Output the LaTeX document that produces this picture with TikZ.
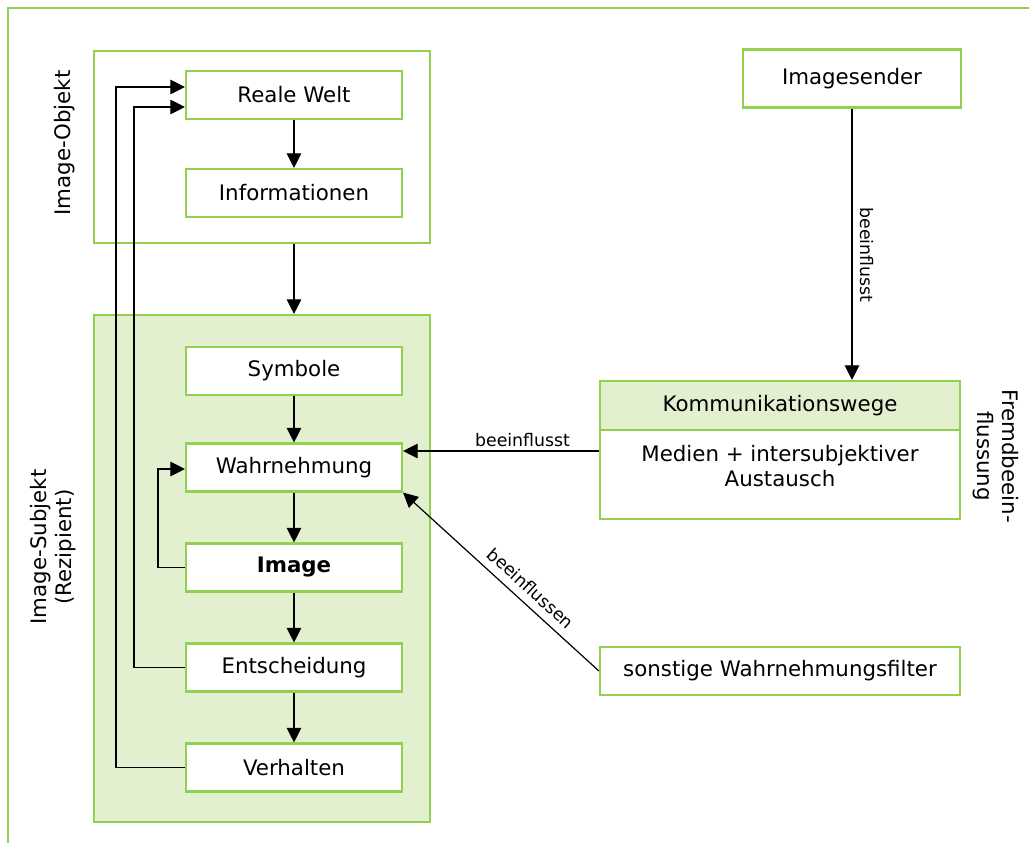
\documentclass[tikz,border=0pt]{standalone}
\usepackage{fontspec}
\setmainfont{DejaVu Sans}
\usetikzlibrary{arrows.meta}
\definecolor{lgreen}{RGB}{146,208,80}
\definecolor{lfill}{RGB}{226,240,208}
\tikzset{
  box/.style={draw=lgreen, line width=1.6pt, fill=white, inner sep=0pt,
    minimum width=162pt, minimum height=36pt, font=\fontsize{16}{19}\selectfont},
  wbox/.style={box, minimum width=270pt},
  frame/.style={draw=lgreen, line width=1.6pt, inner sep=0pt},
  arr/.style={draw=black, line width=0.9pt, -{Triangle[length=11pt,width=11pt]}},
  lbl/.style={font=\fontsize{13}{15}\selectfont, inner sep=2pt},
  side/.style={font=\fontsize{16}{19}\selectfont, align=center, inner sep=0pt}
}
\begin{document}
\begin{tikzpicture}[x=0.75pt, y=-0.75pt]
\useasboundingbox (0,0) rectangle (1029,843);
% outer frame (only top and left edges are visible)
\draw[lgreen, line width=1.6pt] (1029,8) -- (8,8) -- (8,843);

% containers
\node[frame, minimum width=252pt, minimum height=144pt] (obj) at (262,147) {};
\node[frame, fill=lfill, minimum width=252pt, minimum height=380.25pt] (subj) at (262,568.5) {};

% side labels
\node[side, rotate=90] (lobj) at (65,143) {Image-Objekt};
\node[side, rotate=90] (lsubj) at (53,547) {Image-Subjekt\\(Rezipient)};
\node[side, rotate=-90] (lfremd) at (996,456) {Fremdbeein-\\flussung};

% left column
\node[box] (real) at (294,95) {Reale Welt};
\node[box] (info) at (294,193) {Informationen};
\node[box] (sym) at (294,371) {Symbole};
\node[box] (wahr) at (294,467.5) {Wahrnehmung};
\node[box] (img) at (294,567.5) {\bfseries Image};
\node[box] (ent) at (294,667.5) {Entscheidung};
\node[box] (verh) at (294,767.5) {Verhalten};

% right column
\node[box, minimum width=163.5pt, minimum height=43.5pt] (send) at (852,78.5) {Imagesender};
\node[wbox, fill=lfill, minimum height=36.75pt] (kwh) at (780,405.5) {Kommunikationswege};
\node[wbox, minimum height=66.75pt] (kwb) at (780,474.5) {};
\node[side] (kwt) at (780,466) {Medien + intersubjektiver\\Austausch};
\node[wbox] (sonst) at (780,671) {sonstige Wahrnehmungsfilter};

% main flow
\draw[arr] (real) -- (info);
\draw[arr] (obj.south -| info.south) -- (subj.north -| info.south);
\draw[arr] (sym) -- (wahr);
\draw[arr] (wahr) -- (img);
\draw[arr] (img) -- (ent);
\draw[arr] (ent) -- (verh);

% feedback loops
\draw[arr] (verh.west) -| (116,87) -- (real.west |- 0,87);
\draw[arr] (ent.west) -| (134,107) -- (real.west |- 0,107);
\draw[arr] (img.west) -| (158,469) -- (wahr.west |- 0,469);

% external influences
\draw[arr] (send.south -| 852,0) -- node[lbl, pos=0.54, rotate=-90, anchor=south, inner ysep=6pt] {beeinflusst} (kwh.north -| 852,0);
\draw[arr] (kwb.west |- 0,451) -- node[lbl, pos=0.39, above=1pt] {beeinflusst} (wahr.east |- 0,451);
\draw[arr] (sonst.west) -- node[lbl, pos=0.40, sloped, above=4pt] {beeinflussen} (wahr.south east);
\end{tikzpicture}
\end{document}
